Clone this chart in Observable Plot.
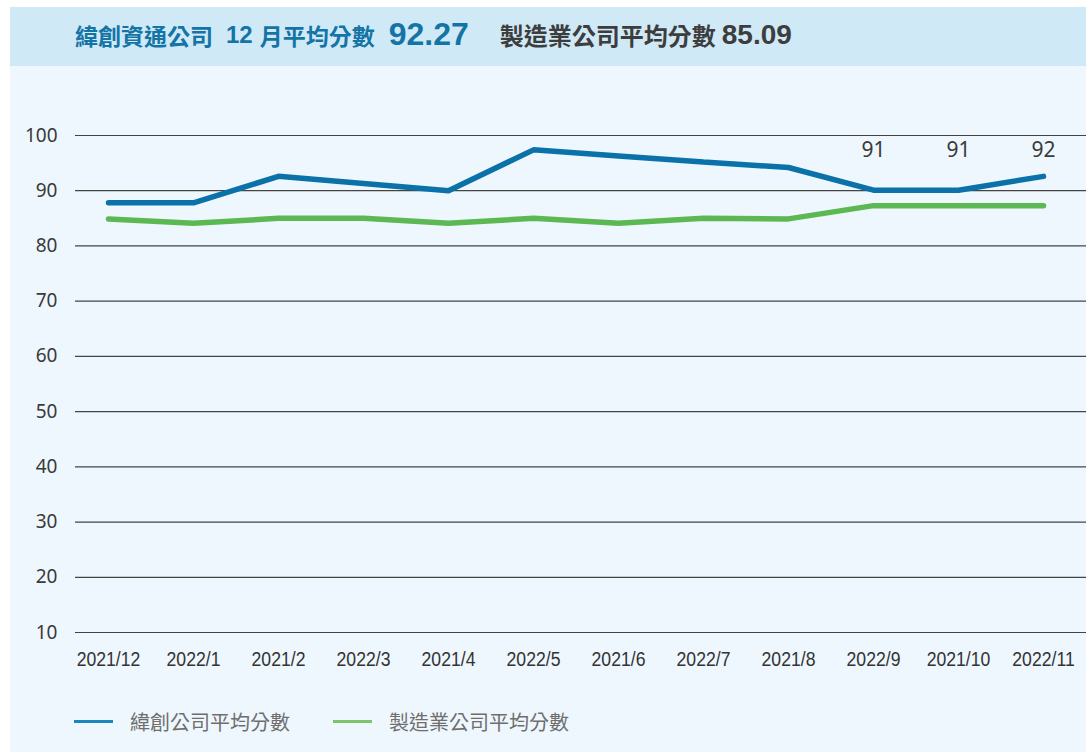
<!DOCTYPE html>
<html>
<head>
<meta charset="utf-8">
<script src="https://cdn.jsdelivr.net/npm/d3@7"></script>
<script src="https://cdn.jsdelivr.net/npm/@observablehq/plot@0.6"></script>
<style>
  html, body { margin: 0; padding: 0; background: #ffffff; }
  #wrap { position: absolute; left: 10px; top: 7px; width: 1076px; height: 745px; }
  #title {
    height: 59px; background: #cfe9f7; display: flex; align-items: center;
    padding-left: 65px; padding-bottom: 4px; box-sizing: border-box; white-space: nowrap;
    font-family: "Liberation Sans", "Noto Sans CJK TC", sans-serif; font-weight: bold;
  }
  #title span { display: inline-block; }
  #title .blue { color: #1474a6; }
  #title .gray { color: #3d3d3d; }
  #panel { position: relative; height: 686px; background: #eef7fd; }
  #chart svg { display: block; }
  .leg { position: absolute; top: 645px; display: flex; align-items: center; height: 20px;
    font-family: "Noto Sans CJK TC", sans-serif; font-size: 20px; color: #6e6e6e; white-space: nowrap; }
  .sw { display: inline-block; width: 39px; height: 3px; margin-right: 17px; }
</style>
</head>
<body>
<div id="wrap">
  <div id="title">
    <span class="blue" style="font-size:23px">緯創資通公司</span><span class="blue" style="font-size:24px;margin-left:13px">12</span><span class="blue" style="font-size:23px;margin-left:7px">月平均分數</span><span class="blue" style="font-size:32px;margin-left:14px">92.27</span><span class="gray" style="font-size:24px;margin-left:31px">製造業公司平均分數</span><span class="gray" style="font-size:28px;margin-left:6px">85.09</span>
  </div>
  <div id="panel">
    <div id="chart"></div>
    <div class="leg" style="left:64px"><span class="sw" style="background:#1a86bb"></span><span id="leg1"></span></div>
    <div class="leg" style="left:323px"><span class="sw" style="background:#7cc56d"></span><span id="leg2"></span></div>
  </div>
</div>
<script>
const months = ["2021/12","2022/1","2021/2","2022/3","2021/4","2022/5","2021/6","2022/7","2021/8","2022/9","2021/10","2022/11"];
const wistronScores = [87.8, 87.8, 92.6, 91.3, 90.0, 97.4, 96.3, 95.2, 94.2, 90.1, 90.1, 92.6];
const industryScores = [84.9, 84.1, 85.0, 85.0, 84.1, 85.0, 84.1, 85.0, 84.9, 87.3, 87.3, 87.3];
const seriesNames = ["緯創公司平均分數", "製造業公司平均分數"];
const labelMonths = ["2022/9", "2021/10", "2022/11"];
const labelTexts = ["91", "91", "92"];
const yTicks = [10, 20, 30, 40, 50, 60, 70, 80, 90, 100];

document.getElementById("leg1").textContent = seriesNames[0];
document.getElementById("leg2").textContent = seriesNames[1];

const blueData = months.map((m, i) => ({month: m, value: wistronScores[i]}));
const greenData = months.map((m, i) => ({month: m, value: industryScores[i]}));
const labelData = labelMonths.map((m, i) => ({month: m, text: labelTexts[i]}));

const chart = Plot.plot({
  width: 1076,
  height: 620,
  marginLeft: 65,
  marginRight: 0,
  marginTop: 69,
  marginBottom: 54,
  style: {background: "transparent", overflow: "visible"},
  x: {type: "point", domain: months, range: [95, 1035], padding: 0, label: null},
  y: {domain: [10, 100], label: null},
  marks: [
    Plot.ruleY(yTicks, {stroke: "#444444", strokeWidth: 1.2}),
    Plot.axisY({ticks: yTicks, tickSize: 0, tickPadding: 18, label: null,
      fontSize: 19, fontFamily: "Noto Sans, sans-serif", fill: "#3a3a3a"}),
    Plot.axisX({tickSize: 0, tickPadding: 19, label: null,
      fontSize: 21, fontFamily: "Liberation Sans, sans-serif", fill: "#333333"}),
    Plot.line(greenData, {x: "month", y: "value", stroke: "#5cb853", strokeWidth: 5.5,
      strokeLinecap: "round", strokeLinejoin: "miter"}),
    Plot.line(blueData, {x: "month", y: "value", stroke: "#0a72a8", strokeWidth: 5.5,
      strokeLinecap: "round", strokeLinejoin: "miter"}),
    Plot.text(labelData, {x: "month", y: () => 97.3, text: "text", fontSize: 21,
      fontFamily: "Noto Sans, sans-serif", fill: "#3a3a3a"})
  ]
});
document.getElementById("chart").appendChild(chart);
// condense the x tick labels horizontally (narrow face look)
const monthSet = new Set(months);
d3.select(chart).selectAll("text").each(function() {
  if (monthSet.has(this.textContent.trim())) {
    const t = this.getAttribute("transform") || "";
    this.setAttribute("transform", t + " scale(0.84,1)");
  }
});
</script>
</body>
</html>
